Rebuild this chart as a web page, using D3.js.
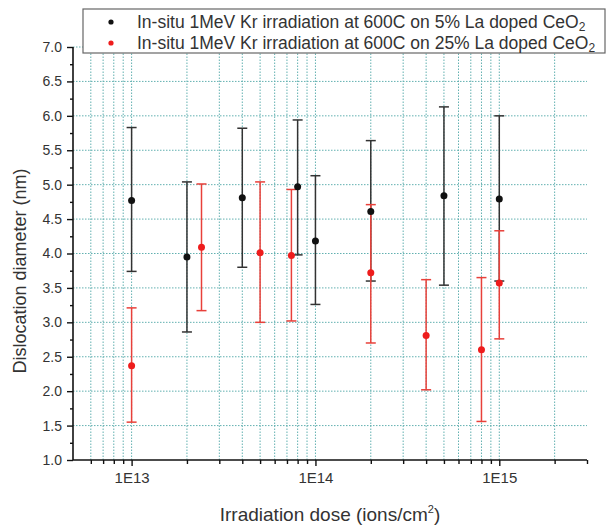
<!DOCTYPE html>
<html><head><meta charset="utf-8">
<script src="https://cdn.jsdelivr.net/npm/d3@7"></script>
<style>body{margin:0;background:#fff;} svg{display:block;font-family:"Liberation Sans",Arial,sans-serif;}</style>
</head><body>
<svg id="c" width="607" height="527"></svg>
<script>
// ---- data ----
const seriesNames = [
  "In-situ 1MeV Kr irradiation at 600C on 5% La doped CeO",
  "In-situ 1MeV Kr irradiation at 600C on 25% La doped CeO"
];
const dose5 = [1e13, 2e13, 4e13, 8e13, 1e14, 2e14, 5e14, 1e15];
const diam5 = [4.77, 3.95, 4.81, 4.97, 4.18, 4.61, 4.84, 4.79];
const upper5 = [5.83, 5.04, 5.82, 5.94, 5.13, 5.64, 6.13, 6.00];
const lower5 = [3.74, 2.86, 3.80, 3.98, 3.26, 3.60, 3.54, 3.60];
const dose25 = [1e13, 2.4e13, 5e13, 7.4e13, 2e14, 4e14, 8e14, 1e15];
const diam25 = [2.37, 4.09, 4.01, 3.97, 3.72, 2.81, 2.60, 3.57];
const upper25 = [3.21, 5.01, 5.04, 4.93, 4.71, 3.62, 3.65, 4.33];
const lower25 = [1.55, 3.17, 3.00, 3.02, 2.70, 2.02, 1.56, 2.76];
const xMajorTicks = [1e13, 1e14, 1e15];
const xMajorLabels = ["1E13", "1E14", "1E15"];
const xMinorTicks = [6e12,7e12,8e12,9e12,2e13,3e13,4e13,5e13,6e13,7e13,8e13,9e13,
                     2e14,3e14,4e14,5e14,6e14,7e14,8e14,9e14,2e15,3e15];
const yMajorTicks = [1.0,1.5,2.0,2.5,3.0,3.5,4.0,4.5,5.0,5.5,6.0,6.5,7.0];
const yMinorTicks = [1.25,1.75,2.25,2.75,3.25,3.75,4.25,4.75,5.25,5.75,6.25,6.75];

// ---- layout ----
const svg = d3.select("#c");
const L = 73, R = 587, T = 47, B = 460;
const x = d3.scaleLog().domain([4.8e12, 3e15]).range([L, R]);
const y = d3.scaleLinear().domain([1, 7]).range([B, T]);
const gridColor = "#62b0b0";

// grid
const g = svg.append("g");
g.selectAll("line.vg").data(xMajorTicks.concat(xMinorTicks).filter(d => d < 3e15))
  .join("line").attr("x1", d => x(d)).attr("x2", d => x(d)).attr("y1", y(1)).attr("y2", y(7))
  .attr("stroke", gridColor).attr("stroke-width", 1).attr("stroke-dasharray", "1.5,1.5");
g.selectAll("line.hg").data(yMajorTicks.filter(d => d > 1))
  .join("line").attr("x1", L).attr("x2", R).attr("y1", d => y(d)).attr("y2", d => y(d))
  .attr("stroke", gridColor).attr("stroke-width", 1).attr("stroke-dasharray", "1.5,1.5");

// axes
const xAxisMajor = d3.axisBottom(x).tickValues(xMajorTicks).tickSize(6)
  .tickFormat((d, i) => xMajorLabels[i]).tickPadding(6);
const xAxisMinor = d3.axisBottom(x).tickValues(xMinorTicks).tickSize(4).tickFormat("");
const yAxisMajor = d3.axisLeft(y).tickValues(yMajorTicks).tickSize(6).tickFormat(d3.format(".1f")).tickPadding(5);
const yAxisMinor = d3.axisLeft(y).tickValues(yMinorTicks).tickSize(3).tickFormat("");

function styleAxis(sel, fs) {
  sel.select(".domain").remove();
  sel.selectAll(".tick line").attr("stroke", "#111").attr("stroke-width", 1.4);
  sel.selectAll(".tick text").attr("fill", "#333").attr("font-size", fs);
}
svg.append("g").attr("transform", `translate(0,${B})`).call(xAxisMinor).call(s => styleAxis(s, 15));
svg.append("g").attr("transform", `translate(0,${B})`).call(xAxisMajor).call(s => styleAxis(s, 15));
svg.append("g").attr("transform", `translate(${L},0)`).call(yAxisMinor).call(s => styleAxis(s, 14));
svg.append("g").attr("transform", `translate(${L},0)`).call(yAxisMajor).call(s => styleAxis(s, 14));
svg.append("line").attr("x1", L).attr("x2", R).attr("y1", B).attr("y2", B).attr("stroke", "#111").attr("stroke-width", 1.6);
svg.append("line").attr("x1", L).attr("x2", L).attr("y1", T).attr("y2", B).attr("stroke", "#111").attr("stroke-width", 1.6);

// error bars
const series = [
  {dose: dose5, diam: diam5, up: upper5, lo: lower5, bar: "#333333", dot: "#111111"},
  {dose: dose25, diam: diam25, up: upper25, lo: lower25, bar: "#e8403a", dot: "#ee1c1c"}
];
const cap = 5;
series.forEach(s => {
  const gg = svg.append("g").attr("stroke", s.bar).attr("stroke-width", 1.5);
  s.dose.forEach((d, i) => {
    const cx = x(d);
    gg.append("line").attr("x1", cx).attr("x2", cx).attr("y1", y(s.up[i])).attr("y2", y(s.lo[i]));
    gg.append("line").attr("x1", cx - cap).attr("x2", cx + cap).attr("y1", y(s.up[i])).attr("y2", y(s.up[i]));
    gg.append("line").attr("x1", cx - cap).attr("x2", cx + cap).attr("y1", y(s.lo[i])).attr("y2", y(s.lo[i]));
  });
});
series.forEach(s => {
  svg.append("g").selectAll("circle").data(s.dose).join("circle")
    .attr("cx", d => x(d)).attr("cy", (d, i) => y(s.diam[i])).attr("r", 3.5).attr("fill", s.dot);
});

// legend
const lg = svg.append("g");
lg.append("rect").attr("x", 83).attr("y", 9).attr("width", 522).attr("height", 44)
  .attr("fill", "#fff").attr("stroke", "#666").attr("stroke-width", 1.2);
seriesNames.forEach((name, i) => {
  const yy = 22 + i * 21;
  lg.append("circle").attr("cx", 111).attr("cy", yy).attr("r", 2.6).attr("fill", series[i].dot);
  const t = lg.append("text").attr("x", 137).attr("y", yy + 6).attr("font-size", 17.5).attr("fill", "#333");
  t.append("tspan").text(name);
  t.append("tspan").attr("font-size", 12).attr("dy", 3).text("2");
});

// axis titles
svg.append("text").attr("transform", "translate(26,271) rotate(-90)").attr("text-anchor", "middle")
  .attr("font-size", 18).attr("fill", "#333").text("Dislocation diameter (nm)");
const xt = svg.append("text").attr("x", 330).attr("y", 521).attr("text-anchor", "middle")
  .attr("font-size", 19).attr("fill", "#333");
xt.append("tspan").text("Irradiation dose (ions/cm");
xt.append("tspan").attr("font-size", 11).attr("dy", -8).text("2");
xt.append("tspan").attr("dy", 8).text(")");
</script>
</body></html>
